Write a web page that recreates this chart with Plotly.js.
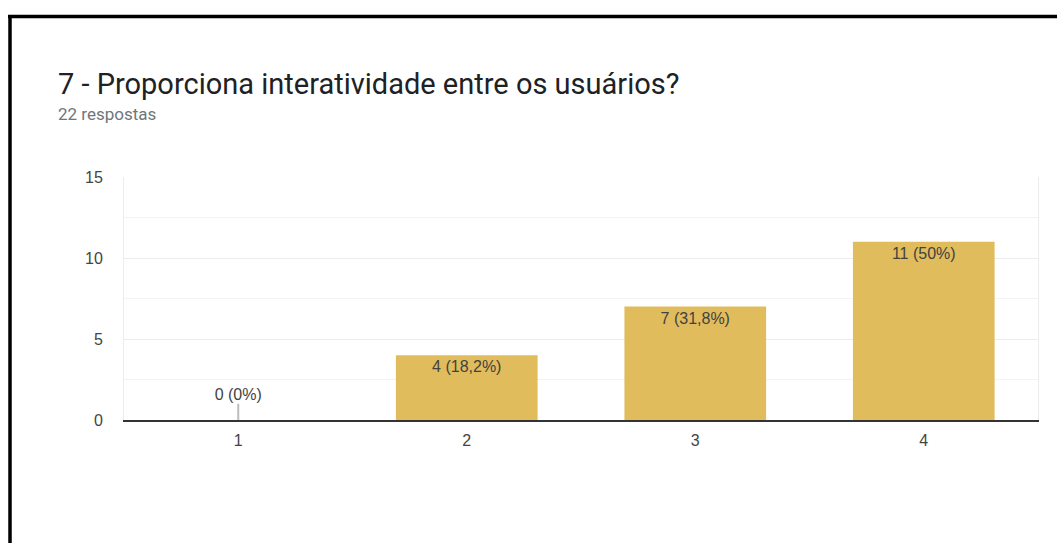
<!DOCTYPE html>
<html>
<head>
<meta charset="utf-8">
<script src="https://cdn.plot.ly/plotly-3.0.1.min.js"></script>
<style>
  html, body { margin: 0; padding: 0; background: #fff; overflow: hidden; }
  #chart { width: 1057px; height: 543px; }
</style>
</head>
<body>
<div id="chart"></div>
<script>
const titleText = "7 - Proporciona interatividade entre os usuários?";
const subtitleText = "22 respostas";
const categories = ["1", "2", "3", "4"];
const counts = [0, 4, 7, 11];
const labels = ["0 (0%)", "4 (18,2%)", "7 (31,8%)", "11 (50%)"];
const yTicks = [0, 5, 10, 15];

const barColor = "rgb(224,188,92)";
const zeroStub = counts.map(v => v === 0 ? 1 : 0);
const labelFont = { family: "Liberation Sans, Arial, sans-serif", size: 16, color: "#424242" };

const barTrace = {
  type: "bar",
  x: categories,
  y: counts,
  marker: { color: barColor },
  text: labels.map((t, i) => counts[i] === 0 ? "" : t),
  textposition: "inside",
  insidetextanchor: "end",
  textangle: 0,
  insidetextfont: labelFont,
  textfont: labelFont,
  error_y: { type: "data", symmetric: false, array: zeroStub, arrayminus: counts.map(() => 0),
             color: "#bdbdbd", thickness: 2, width: 0 },
  hoverinfo: "none",
  cliponaxis: false
};

const zeroIdx = counts.map((v, i) => v === 0 ? i : -1).filter(i => i >= 0);
const zeroLabelTrace = {
  type: "scatter",
  mode: "text",
  x: zeroIdx.map(i => categories[i]),
  y: zeroIdx.map(i => zeroStub[i]),
  text: zeroIdx.map(i => labels[i]),
  textposition: "top center",
  textfont: labelFont,
  hoverinfo: "none",
  cliponaxis: false
};

const W = 1057, H = 543, mL = 124, mR = 19, mT = 177, mB = 123;
const pw = W - mL - mR, ph = H - mT - mB;
function px(xp) { return (xp - mL) / pw; }
function py(yp) { return (H - mB - yp) / ph; }

const layout = {
  width: W,
  height: H,
  margin: { l: mL, r: mR, t: mT, b: mB },
  paper_bgcolor: "#fff",
  plot_bgcolor: "#fff",
  showlegend: false,
  bargap: 0.38,
  font: { family: "Liberation Sans, Arial, sans-serif", color: "#444" },
  xaxis: {
    type: "category",
    showgrid: false,
    showline: true,
    linecolor: "#333",
    linewidth: 1.5,
    ticks: "",
    ticklabelstandoff: 5,
    tickfont: { size: 16, color: "#444" },
    zeroline: false
  },
  yaxis: {
    range: [0, 15],
    tickvals: yTicks,
    ticktext: yTicks.map(String),
    showgrid: true,
    gridcolor: "#ececec",
    gridwidth: 1,
    minor: { dtick: 2.5, showgrid: true, gridcolor: "#f3f3f3", gridwidth: 1 },
    showline: true,
    mirror: true,
    linecolor: "#ececec",
    zeroline: false,
    ticks: "",
    ticklabelstandoff: 17,
    tickfont: { size: 16, color: "#444" },
    fixedrange: true
  },
  annotations: [
    { text: titleText, xref: "paper", yref: "paper", x: px(56), y: py(65),
      xanchor: "left", yanchor: "top", showarrow: false,
      font: { family: "Roboto, sans-serif", size: 29, color: "#202124" } },
    { text: subtitleText, xref: "paper", yref: "paper", x: px(56), y: py(102),
      xanchor: "left", yanchor: "top", showarrow: false,
      font: { family: "Roboto, sans-serif", size: 17, color: "#70757a" } }
  ],
  shapes: [
    { type: "line", xref: "paper", yref: "paper", x0: px(8), x1: px(W + 5), y0: py(16.5), y1: py(16.5),
      line: { color: "#000", width: 3.5 } },
    { type: "line", xref: "paper", yref: "paper", x0: px(10), x1: px(10), y0: py(15), y1: py(H + 5),
      line: { color: "#000", width: 3.5 } }
  ]
};

Plotly.newPlot("chart", [barTrace, zeroLabelTrace], layout, { displayModeBar: false, staticPlot: true });
</script>
</body>
</html>
